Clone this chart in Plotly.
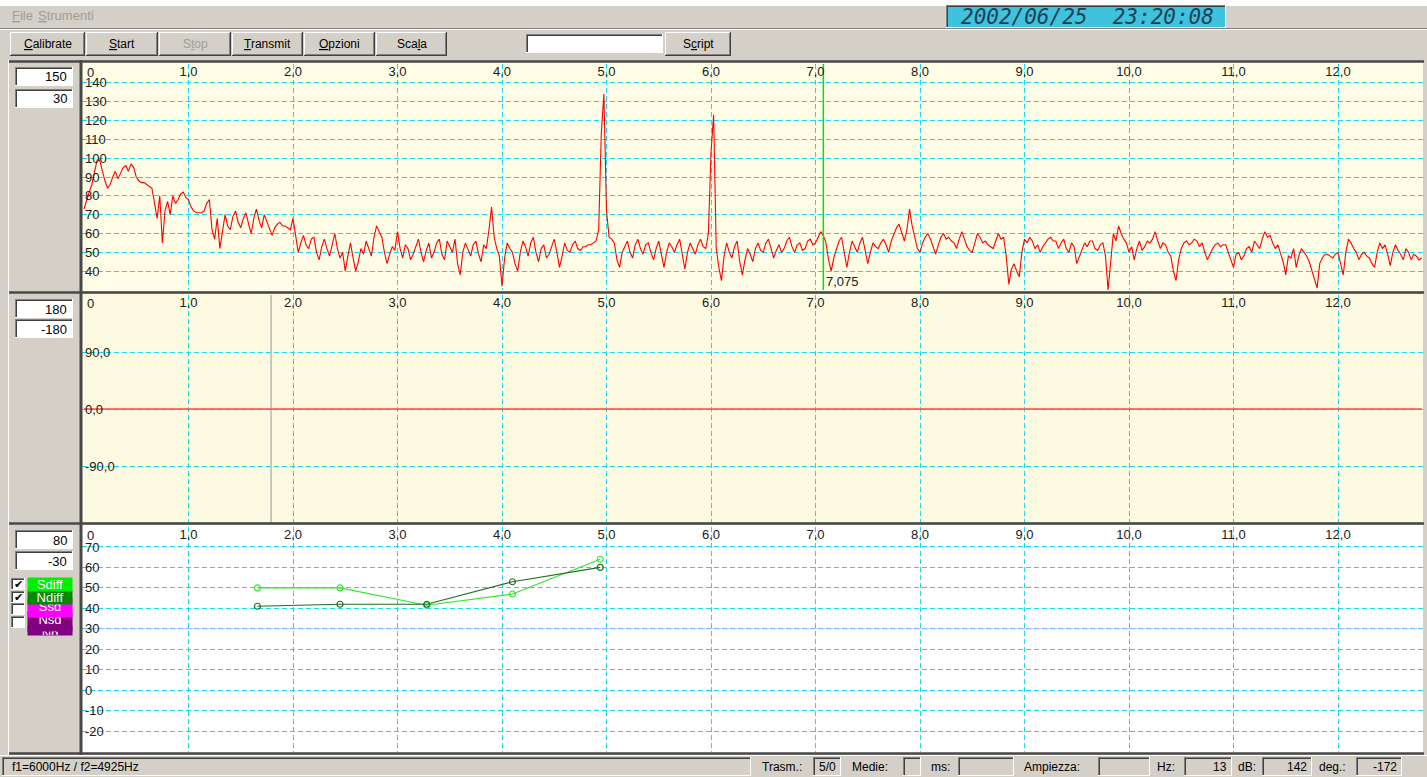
import plotly.graph_objects as go

# ---------------- DATA ----------------
spec_step_khz = 0.025
spectrum_db = [
    # 0.0 - 0.975 kHz
    73, 78, 82, 86, 92, 99, 99, 93, 88, 84, 86, 90, 93, 89, 92, 95, 96, 93, 97, 95,
    90, 88, 87, 87, 86, 85, 84, 76, 68, 80, 55, 72, 77, 70, 80, 76, 78, 81, 82, 79,
    # 1.0 - 1.975
    78, 74, 72, 71, 71, 71, 72, 76, 78, 62, 57, 68, 52, 60, 70, 64, 62, 69, 72, 66,
    63, 68, 71, 65, 60, 68, 73, 67, 63, 70, 66, 62, 59, 63, 65, 66, 64, 64, 63, 62,
    # 2.0 - 2.975
    68, 58, 50, 55, 59, 54, 52, 57, 58, 50, 46, 53, 57, 52, 48, 54, 60, 52, 47, 50,
    40, 48, 55, 47, 40, 45, 52, 49, 56, 52, 48, 58, 64, 61, 58, 50, 44, 49, 53, 51,
    # 3.0 - 3.975
    61, 52, 47, 54, 52, 46, 49, 53, 57, 50, 45, 51, 55, 47, 50, 55, 57, 49, 46, 56,
    53, 50, 57, 44, 38, 50, 55, 51, 48, 54, 56, 49, 45, 54, 52, 62, 74, 58, 52, 48,
    # 4.0 - 4.975
    32, 47, 55, 52, 50, 44, 40, 50, 56, 53, 48, 55, 58, 50, 45, 52, 54, 47, 49, 53,
    57, 50, 42, 48, 55, 51, 50, 54, 56, 52, 51, 53, 53, 54, 54, 55, 56, 62, 113, 134,
    # 5.0 - 5.975
    72, 58, 57, 55, 46, 42, 50, 53, 56, 50, 47, 54, 57, 52, 49, 54, 55, 50, 46, 52,
    56, 49, 42, 50, 55, 53, 50, 54, 57, 49, 41, 50, 55, 52, 49, 54, 57, 53, 52, 60,
    # 6.0 - 6.975
    103, 123, 52, 42, 35, 48, 55, 50, 47, 53, 56, 45, 38, 46, 52, 49, 45, 52, 55, 51,
    50, 55, 57, 52, 47, 51, 54, 50, 52, 56, 58, 53, 50, 54, 55, 51, 52, 56, 57, 54,
    # 7.0 - 7.975
    55, 58, 61, 59, 55, 46, 40, 47, 52, 56, 58, 50, 42, 50, 56, 53, 50, 55, 58, 51,
    44, 50, 55, 53, 52, 55, 57, 54, 50, 56, 60, 63, 65, 60, 56, 62, 73, 64, 57, 52,
    # 8.0 - 8.975
    50, 55, 58, 60, 57, 53, 49, 54, 58, 60, 57, 58, 56, 55, 52, 57, 61, 57, 53, 51,
    50, 55, 60, 58, 55, 56, 54, 53, 52, 56, 60, 57, 58, 48, 33, 41, 44, 40, 37, 50,
    # 9.0 - 9.975
    57, 55, 58, 56, 52, 54, 50, 53, 55, 57, 58, 56, 56, 52, 55, 57, 52, 50, 55, 53,
    44, 48, 52, 55, 53, 56, 56, 52, 51, 54, 55, 48, 30, 45, 60, 56, 64, 60, 57, 55,
    # 10.0 - 10.975
    50, 53, 46, 52, 56, 51, 53, 56, 55, 57, 61, 56, 52, 55, 54, 50, 48, 40, 35, 46,
    52, 55, 56, 54, 55, 57, 56, 53, 55, 50, 46, 49, 52, 54, 55, 53, 54, 54, 50, 47,
    # 11.0 - 11.975
    42, 49, 50, 46, 48, 52, 53, 50, 56, 54, 52, 57, 61, 58, 59, 55, 52, 54, 49, 45,
    38, 48, 47, 52, 42, 48, 52, 50, 48, 45, 40, 36, 31, 44, 47, 49, 49, 48, 47, 49,
    # 12.0 - 12.8
    50, 44, 38, 50, 57, 55, 52, 50, 46, 49, 50, 48, 47, 44, 42, 50, 55, 52, 54, 49,
    43, 50, 54, 51, 49, 46, 52, 50, 46, 49, 48, 46, 47,
]
spec_freq_khz = [round(i * spec_step_khz, 3) for i in range(len(spectrum_db))]

cursor_khz = 7.075
cursor_label = "7,075"

phase_freq_khz = [0.0, 12.8]
phase_deg = [0.0, 0.0]
phase_marker_khz = 1.79

dp_freq_khz = [1.66, 2.45, 3.28, 4.10, 4.94]
sdiff_db = [50, 50, 41.5, 47, 64]
ndiff_db = [41, 42, 42, 53, 60]
threshold_db = 30

x_tick_vals = list(range(0, 13))
x_tick_text = ["0"] + [f"{v},0" for v in range(1, 13)]
amp_tick_vals = list(range(30, 151, 10))
amp_tick_text = [str(v) for v in amp_tick_vals]
ph_tick_vals = [-180, -90, 0, 90, 180]
ph_tick_text = ["-180,0", "-90,0", "0,0", "90,0", "180,0"]
dp_tick_vals = list(range(-30, 81, 10))
dp_tick_text = [str(v) for v in dp_tick_vals]

# ---------------- LAYOUT HELPERS ----------------
W, H = 1427, 777
FONT = "Liberation Sans, Arial, sans-serif"
GRAY = "#d4d0c8"
GRID = "#20d6ea"
shapes, annotations = [], []


def px(x):
    return x / W


def py(y):
    return 1 - y / H


def box(x0, y0, x1, y1, fill=None, line=None, lw=1, layer="above"):
    shapes.append(dict(type="rect", xref="paper", yref="paper",
                       x0=px(x0), x1=px(x1), y0=py(y1), y1=py(y0),
                       fillcolor=fill or "rgba(0,0,0,0)",
                       line=dict(color=line or "rgba(0,0,0,0)", width=lw if line else 0),
                       layer=layer))


def hline(x0, x1, y, color, w=1, layer="above"):
    shapes.append(dict(type="line", xref="paper", yref="paper",
                       x0=px(x0), x1=px(x1), y0=py(y), y1=py(y),
                       line=dict(color=color, width=w), layer=layer))


def vline(x, y0, y1, color, w=1, layer="above"):
    shapes.append(dict(type="line", xref="paper", yref="paper",
                       x0=px(x), x1=px(x), y0=py(y0), y1=py(y1),
                       line=dict(color=color, width=w), layer=layer))


def bevel(x0, y0, x1, y1, fill=GRAY, raised=True):
    box(x0, y0, x1, y1, fill)
    if raised:
        hline(x0, x1, y0 + 0.5, "#ffffff"); vline(x0 + 0.5, y0, y1, "#ffffff")
        hline(x0, x1, y1 - 0.5, "#404040"); vline(x1 - 0.5, y0, y1, "#404040")
        hline(x0 + 1, x1 - 1, y1 - 1.5, "#808080"); vline(x1 - 1.5, y0 + 1, y1 - 1, "#808080")
    else:
        hline(x0, x1, y0 + 0.5, "#808080"); vline(x0 + 0.5, y0, y1, "#808080")
        hline(x0 + 1, x1 - 1, y0 + 1.5, "#404040"); vline(x0 + 1.5, y0 + 1, y1 - 1, "#404040")
        hline(x0, x1, y1 - 0.5, "#ffffff"); vline(x1 - 0.5, y0, y1, "#ffffff")


def text(x, y, s, size=12, color="#000000", xanchor="center", family=FONT, **kw):
    annotations.append(dict(xref="paper", yref="paper", x=px(x), y=py(y), text=s,
                            showarrow=False, xanchor=xanchor, yanchor="middle",
                            font=dict(family=family, size=size, color=color), **kw))


# ---------------- WINDOW CHROME ----------------
box(0, 0, W, 6, "#ffffff")
text(10, 16, "<u>F</u>ile", 13, "#a09c94", "left")
text(36, 16, "<u>S</u>trumenti", 13, "#a09c94", "left")
bevel(946, 5, 1226, 28, "#3fc2dc", raised=False)
text(1087, 17, "<i>2002/06/25  23:20:08</i>", 21, "#1d3f55", family="DejaVu Sans Mono")
hline(0, W, 28.5, "#808080")
hline(0, W, 29.5, "#ffffff")

buttons = [("<u>C</u>alibrate", 10, 85, "#000"), ("<u>S</u>tart", 86, 158, "#000"),
           ("S<u>t</u>op", 159, 231, "#a09c94"), ("<u>T</u>ransmit", 232, 303, "#000"),
           ("<u>O</u>pzioni", 304, 375, "#000"), ("Sca<u>l</u>a", 376, 447, "#000"),
           ("S<u>c</u>ript", 665, 731, "#000")]
for lbl, x0, x1, col in buttons:
    bevel(x0, 32, x1, 56, GRAY, raised=True)
    text((x0 + x1) / 2, 44, lbl, 12, col)
bevel(526, 34, 663, 53, "#ffffff", raised=False)

# panel backgrounds
box(82, 62, 1423, 291, "#fffde6", layer="below")
box(82, 294, 1423, 522, "#fdfae2", layer="below")
box(82, 525, 1423, 753, "#ffffff", layer="below")

# separators / frames
for yy in (61.5, 292.5, 523.5, 753.5):
    hline(8, 1424, yy, "#484848", 2.5)
vline(81, 60, 755, "#484848", 3)
vline(8.5, 60, 755, "#ffffff", 1)

# left textboxes
for y0, val in [(67, "150"), (89, "30"), (299, "180"), (319, "-180"), (530, "80"), (551, "-30")]:
    bevel(15, y0, 73, y0 + 19, "#ffffff", raised=False)
    text(69, y0 + 10, val, 13, "#000", "right")

# checkboxes + series labels
checks = [(578, True), (591, True), (603, False), (616, False)]
for y0, on in checks:
    bevel(11, y0, 25, y0 + 12, "#ffffff", raised=False)
    if on:
        text(18, y0 + 6, "✔", 11, "#000", family="DejaVu Sans")
labels = [("Sdiff", "#00ee00", 577, 13, "middle"), ("Ndiff", "#008a00", 590, 13, "middle"),
          ("Ssd", "#ff00ff", 598, 18, "top"), ("Nsd", "#800080", 611, 19, "top"),
          ("Np", "#800080", 625, 9, "top")]
for name, col, y0, h, va in reversed(labels):
    annotations.append(dict(xref="paper", yref="paper", x=px(27), y=py(y0), text=name,
                            showarrow=False, xanchor="left", yanchor="top",
                            width=44, height=h, bgcolor=col, valign=va, borderpad=0,
                            font=dict(family=FONT, size=13, color="#ffffff")))

# status bar
hline(0, W, 755.5, "#ffffff")
bevel(2, 757, 751, 776, GRAY, raised=False)
text(10, 767, "f1=6000Hz / f2=4925Hz", 12, "#000", "left")
status = [("Trasm.:", 760, (813, 841), "5/0"), ("Medie:", 850, (903, 921), ""),
          ("ms:", 929, (958, 1014), ""), ("Ampiezza:", 1022, (1098, 1150), ""),
          ("Hz:", 1155, (1184, 1232), "13"), ("dB:", 1236, (1262, 1312), "142"),
          ("deg.:", 1317, (1356, 1402), "-172")]
for lbl, lx, (bx0, bx1), val in status:
    text(lx, 767, lbl, 12, "#000", "left")
    bevel(bx0, 757, bx1, 776, GRAY, raised=False)
    if val:
        text(bx1 - 3, 767, val, 12, "#000", "right")

# ---------------- FIGURE ----------------
fig = go.Figure()
fig.add_trace(go.Scatter(x=spec_freq_khz, y=spectrum_db, mode="lines",
                         line=dict(color="#ff0000", width=1.1), xaxis="x", yaxis="y"))
fig.add_trace(go.Scatter(x=[cursor_khz, cursor_khz], y=[30, 150], mode="lines",
                         line=dict(color="#00e600", width=1.5), xaxis="x", yaxis="y"))
fig.add_trace(go.Scatter(x=[phase_marker_khz, phase_marker_khz], y=[-180, 180], mode="lines",
                         line=dict(color="#a8a8a8", width=1.2), xaxis="x2", yaxis="y2"))
fig.add_trace(go.Scatter(x=phase_freq_khz, y=phase_deg, mode="lines",
                         line=dict(color="#ff4a3a", width=1.6), xaxis="x2", yaxis="y2"))
fig.add_trace(go.Scatter(x=phase_freq_khz, y=[threshold_db, threshold_db], mode="lines",
                         line=dict(color="#c9a6ff", width=1, dash="5px,3px"), xaxis="x3", yaxis="y3"))
fig.add_trace(go.Scatter(x=dp_freq_khz, y=sdiff_db, mode="lines+markers",
                         line=dict(color="#2ee82e", width=1.2),
                         marker=dict(symbol="circle-open", size=6, color="#2ee82e", line=dict(width=1.2)),
                         xaxis="x3", yaxis="y3"))
fig.add_trace(go.Scatter(x=dp_freq_khz, y=ndiff_db, mode="lines+markers",
                         line=dict(color="#1f6f1f", width=1.2),
                         marker=dict(symbol="circle-open", size=6, color="#1f6f1f", line=dict(width=1.2)),
                         xaxis="x3", yaxis="y3"))

annotations.append(dict(xref="x", yref="y", x=cursor_khz, y=30, text=cursor_label, showarrow=False,
                        xanchor="left", yanchor="bottom", xshift=1, yshift=-1,
                        font=dict(family=FONT, size=13, color="#202020")))
for xr, yr, ytop in [("x", "y", 150), ("x2", "y2", 180), ("x3", "y3", 80)]:
    annotations.append(dict(xref=xr, yref=yr, x=0, y=ytop, text="0", showarrow=False,
                            xanchor="left", yanchor="top", xshift=1, yshift=1,
                            font=dict(family=FONT, size=13, color="#202020")))

x_lo = (82 - 84) / 104.5
x_hi = (1423 - 84) / 104.5
XD = [px(82), px(1423)]
tickfont = dict(family=FONT, size=13, color="#202020")


def xax(anchor):
    return dict(domain=XD, range=[x_lo, x_hi], tickvals=x_tick_vals, ticktext=x_tick_text,
                side="top", ticklabelposition="inside", anchor=anchor, showgrid=True,
                gridcolor=GRID, griddash="5px,3px", gridwidth=1, zeroline=False,
                showline=False, ticks="", tickfont=tickfont, fixedrange=True)


def yax(dom, rng, tv, tt, anchor):
    return dict(domain=dom, range=rng, tickvals=tv, ticktext=tt, ticklabelposition="inside",
                showgrid=True, gridcolor=GRID, griddash="5px,3px", gridwidth=1, anchor=anchor,
                zeroline=False, showline=False, ticks="", tickfont=tickfont, fixedrange=True)


fig.update_layout(
    width=W, height=H, margin=dict(l=0, r=0, t=0, b=0),
    paper_bgcolor=GRAY, plot_bgcolor="rgba(0,0,0,0)", showlegend=False,
    xaxis=xax("y"), xaxis2=xax("y2"), xaxis3=xax("y3"),
    yaxis=yax([py(290), py(64)], [30, 150], amp_tick_vals, amp_tick_text, "x"),
    yaxis2=yax([py(523), py(295)], [-180, 180], ph_tick_vals, ph_tick_text, "x2"),
    yaxis3=yax([py(751.5), py(526.5)], [-30, 80], dp_tick_vals, dp_tick_text, "x3"),
    shapes=shapes, annotations=annotations,
)
fig.write_html("out.html", config={"displayModeBar": False},
               post_script="document.body.style.margin='0';document.body.style.overflow='hidden';")
